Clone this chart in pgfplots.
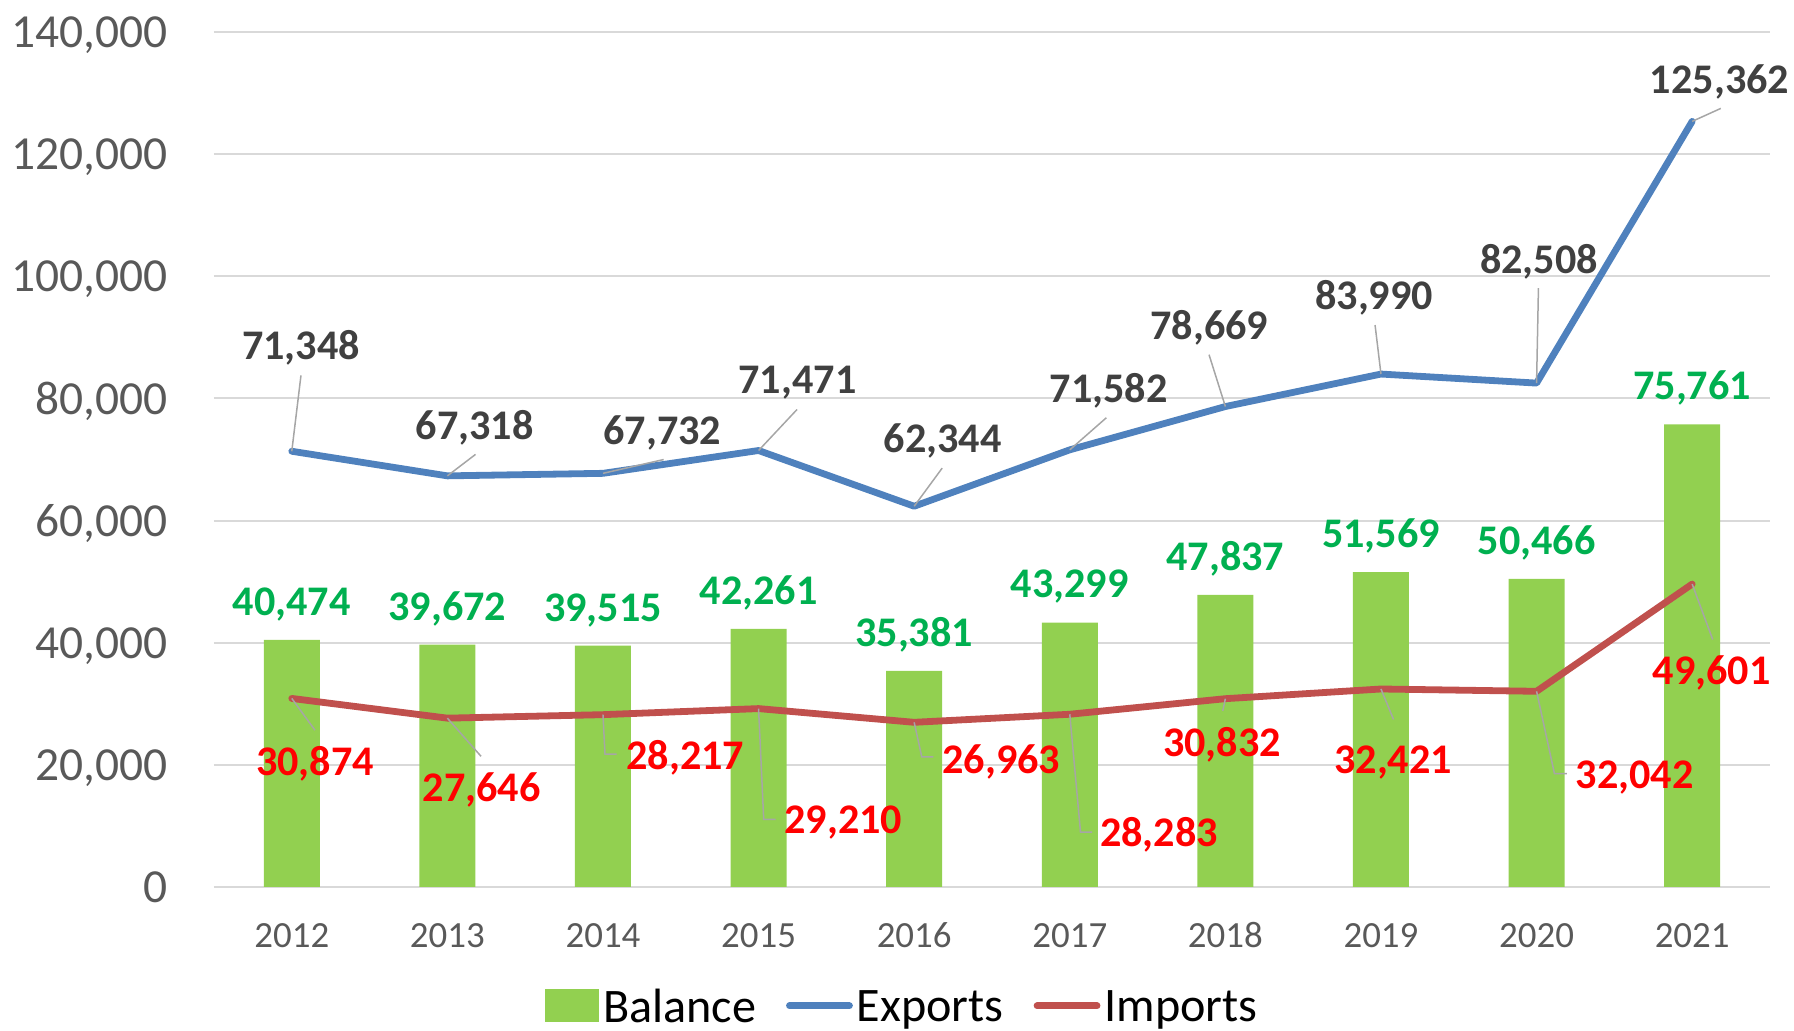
\documentclass[border=0pt]{standalone}
\usepackage{pgfplots}
\pgfplotsset{compat=1.18}
\usepackage{pgfplotstable}
\usepackage{fontspec}
\setmainfont{Carlito}
\definecolor{barg}{HTML}{92D050}
\definecolor{expb}{HTML}{4F81BD}
\definecolor{impr}{HTML}{C0504D}
\definecolor{labg}{HTML}{00B050}
\definecolor{labr}{HTML}{FF0000}
\definecolor{labd}{HTML}{404040}
\definecolor{tickc}{HTML}{595959}
\definecolor{gridc}{HTML}{D9D9D9}
\definecolor{leadc}{HTML}{A6A6A6}
\newcommand\fsz[1]{\fontsize{#1}{#1}\selectfont}
\tikzset{labnode/.style={inner sep=0pt, text height=7.6pt, text depth=0pt, anchor=center, font=\bfseries\fsz{12}}}

\pgfplotstableread{
x exp imp bal
0 71348 30874 40474
1 67318 27646 39672
2 67732 28217 39515
3 71471 29210 42261
4 62344 26963 35381
5 71582 28283 43299
6 78669 30832 47837
7 83990 32421 51569
8 82508 32042 50466
9 125362 49601 75761
}\main

\pgfplotstableread{
x y v
0.059 88640 71348
1.176 75522 67318
2.382 74585 67732
3.250 83018 71471
4.184 73273 62344
5.250 81519 71582
5.897 91826 78669
6.956 96698 83990
8.015 102695 82508
9.176 132117 125362
}\explab

\pgfplotstableread{
x y v
0.149 20483 30874
1.221 16116 27646
2.529 21364 28217
3.544 10925 29210
4.560 20745 26963
5.574 8845 28283
5.978 23594 30832
7.078 20745 32421
8.630 18290 32042
9.126 35325 49601
}\implab

\pgfplotstableread{
x y
0 71348
0.059 83768
nan nan
1 67318
1.181 70837
nan nan
2 67732
2.390 69994
nan nan
3 71471
3.247 78183
nan nan
4 62344
4.180 68588
nan nan
5 71582
5.235 76834
nan nan
6 78669
5.895 87160
nan nan
7 83990
6.962 92014
nan nan
8 82508
8.012 98048
nan nan
9 125362
9.184 127488
nan nan
0 30874
0.149 25674
nan nan
1 27646
1.216 21401
nan nan
2 28217
2.013 21738
2.088 21738
nan nan
3 29210
3.033 11057
3.109 11057
nan nan
4 26963
4.049 21289
4.123 21289
nan nan
5 28283
5.069 8995
5.143 8995
nan nan
6 30832
5.983 28822
nan nan
7 32421
7.081 27417
nan nan
8 32042
8.115 18553
8.195 18553
nan nan
9 49601
9.132 40516
}\leaders

\begin{document}
\begin{tikzpicture}
\begin{axis}[
  scale only axis,
  width=155.6mm, height=85.5mm,
  xmin=-0.5, xmax=9.5, ymin=0, ymax=140000,
  clip=false,
  axis line style={draw=none},
  major tick length=0pt,
  ymajorgrids, grid style={gridc, line width=0.2mm},
  ytick={0,20000,...,140000},
  scaled y ticks=false,
  xtick={0,...,9},
  xticklabels={2012,2013,2014,2015,2016,2017,2018,2019,2020,2021},
  /pgf/number format/.cd, fixed, precision=0, 1000 sep={,}, assume math mode=true,
  /pgfplots/.cd,
  yticklabel style={font=\fsz{13.5}, text=tickc, inner sep=0pt, anchor=east, xshift=-4.6mm, text depth=0pt},
  xticklabel style={font=\fsz{10.5}, text=tickc, inner sep=0pt, anchor=north, yshift=-3.5mm, text height=7pt, text depth=0pt},
  unbounded coords=jump,
  legend columns=3,
  legend style={at={(0.443,-0.139)}, anchor=center, draw=none, fill=none,
    font=\fsz{13.7}, inner sep=0pt,
    nodes={inner sep=0.4mm, text depth=0pt},
    /tikz/every even column/.append style={column sep=2.6mm}},
]
\addplot[ybar, bar width=5.6mm, bar shift=0pt, fill=barg, draw=none,
  nodes near coords, point meta=explicit,
  every node near coord/.append style={labnode, text=labg, yshift=3.8mm},
  legend image code/.code={\fill[barg] (0mm,-1.65mm) rectangle (5.4mm,1.65mm);}]
  table[x=x, y=bal, meta=bal] {\main};
\addlegendentry{Balance}
\addplot[expb, line width=0.68mm, line join=round, line cap=round, mark=none,
  legend image code/.code={\draw[expb, line width=0.68mm, line cap=round] (0mm,0mm) -- (6mm,0mm);}]
  table[x=x, y=exp] {\main};
\addlegendentry{Exports}
\addplot[impr, line width=0.68mm, line join=round, line cap=round, mark=none,
  legend image code/.code={\draw[impr, line width=0.68mm, line cap=round] (0mm,0mm) -- (6mm,0mm);}]
  table[x=x, y=imp] {\main};
\addlegendentry{Imports}
\addplot[leadc, line width=0.15mm, forget plot, mark=none] table[x=x, y=y] {\leaders};
\addplot[draw=none, mark=none, forget plot, nodes near coords, point meta=explicit,
  every node near coord/.append style={labnode, text=labd}]
  table[x=x, y=y, meta=v] {\explab};
\addplot[draw=none, mark=none, forget plot, nodes near coords, point meta=explicit,
  every node near coord/.append style={labnode, text=labr}]
  table[x=x, y=y, meta=v] {\implab};
\end{axis}
\pgfresetboundingbox
\useasboundingbox (-21.4mm,-14.4mm) rectangle (158mm,88.7mm);
\end{tikzpicture}
\end{document}
